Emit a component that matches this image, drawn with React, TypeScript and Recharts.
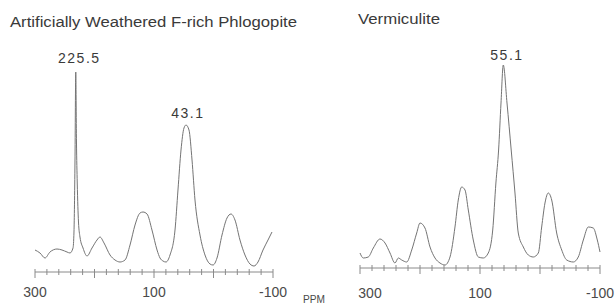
import React from 'react';
import { LineChart, Line, XAxis, YAxis, ReferenceDot } from 'recharts';

// spectrum: chemical shift (ppm) and relative intensity
const leftPpm = [300, 291.6, 283.2, 274.8, 263.0, 254.6, 246.2, 241.2, 236.1, 234.5, 232.8, 231.5, 230.3, 229.0, 226.9, 224.4, 219.3, 212.6, 204.2, 195.8, 190.8, 184.0, 173.9, 165.5, 157.1, 148.7, 140.3, 131.9, 123.5, 118.5, 111.7, 103.4, 94.9, 89.9, 84.9, 79.8, 73.1, 64.7, 59.7, 54.6, 49.6, 46.2, 41.2, 36.1, 31.1, 22.7, 14.3, 5.9, 0.8, -5.9, -14.3, -22.7, -29.4, -36.1, -44.5, -52.9, -61.3, -68.1, -74.8, -83.2, -91.6, -98.3];
const leftIntensity = [22, 19, 14, 20, 23, 22, 20, 19, 24, 40, 110, 200, 130, 89, 50, 35, 24, 16, 24, 32, 35, 29, 17, 12, 10, 12, 27, 47, 59, 60, 58, 42, 22, 14, 11, 10, 17, 42, 82, 122, 144, 147, 142, 112, 72, 37, 17, 8, 7, 14, 37, 54, 58, 52, 32, 17, 8, 6, 10, 22, 32, 40];

const rightPpm = [300, 294.5, 286.2, 277.8, 266.7, 258.3, 250, 241.7, 236.2, 230.5, 222.2, 213.8, 205.5, 200, 191.7, 183.3, 175, 166.7, 158.3, 150, 141.7, 136.2, 130.5, 125, 119.5, 111.2, 102.8, 94.5, 86.2, 78.8, 73.5, 69, 65, 61.2, 55, 48, 41.7, 36.2, 27.8, 19.5, 11.2, 2.8, -2.8, -8.3, -13.8, -19.5, -27.8, -36.2, -44.5, -55.5, -63.8, -72.2, -80.5, -88.8, -95.5, -100];
const rightIntensity = [15, 10, 11, 20, 29, 25, 15, 5, 10, 8, 6, 18, 35, 45, 40, 21, 10, 5, 3, 11, 41, 68, 81, 78, 58, 28, 11, 10, 15, 38, 85, 118, 165, 203, 165, 118, 75, 35, 21, 13, 11, 15, 41, 65, 75, 68, 35, 18, 8, 6, 11, 28, 41, 40, 28, 16];

const axisTicks = [300, 280, 260, 240, 220, 200, 180, 160, 140, 120, 100, 80, 60, 40, 20, 0, -20, -40, -60, -80, -100];
const tickLabels = [300, 100, -100];

const leftPeaks = [{ ppm: 225.5, height: 200, label: '225.5' }, { ppm: 43.1, height: 147, label: '43.1' }];
const rightPeaks = [{ ppm: 55.1, height: 203, label: '55.1' }];

const leftData = leftPpm.map((ppm, i) => ({ ppm, value: leftIntensity[i] }));
const rightData = rightPpm.map((ppm, i) => ({ ppm, value: rightIntensity[i] }));

const FONT = '"Liberation Sans", Arial, sans-serif';
const INK = '#3a3a3a';
const TRACE = '#747474';

const AxisTick = (props: any) => {
  const { x, y, payload, labelDy, firstDx } = props;
  const v = payload.value;
  const major = v % 100 === 0;
  const showLabel = tickLabels.includes(v);
  return (
    <g>
      <line x1={x} x2={x} y1={y - 3} y2={y + (major ? 6 : 3)} stroke="#8a8a8a" strokeWidth={1} />
      {showLabel && (
        <text
          x={x + (v === 300 ? firstDx : 0)}
          y={y + labelDy}
          textAnchor="middle"
          fontFamily={FONT}
          fontSize={14}
          fill="#4a4a4a"
        >
          {v}
        </text>
      )}
    </g>
  );
};

const Spectrum = ({ data, peaks, width, height, margin, axisH, yMax, labelDy, firstDx, labelOffset }: any) => (
  <LineChart width={width} height={height} data={data} margin={margin}>
    <XAxis
      dataKey="ppm"
      type="number"
      domain={[-100, 300]}
      reversed
      ticks={axisTicks}
      interval={0}
      height={axisH}
      tickSize={0}
      tickMargin={0}
      tickLine={false}
      axisLine={{ stroke: '#8a8a8a', strokeWidth: 1 }}
      tick={<AxisTick labelDy={labelDy} firstDx={firstDx} />}
    />
    <YAxis hide domain={[0, yMax]} />
    <Line
      type="monotone"
      dataKey="value"
      stroke={TRACE}
      strokeWidth={1}
      dot={false}
      isAnimationActive={false}
    />
    {peaks.map((p: any, i: number) => (
      <ReferenceDot
        key={p.label}
        x={p.ppm}
        y={p.height}
        r={0}
        fill="none"
        stroke="none"
        label={{
          value: p.label,
          position: 'top',
          offset: labelOffset[i],
          fontFamily: FONT,
          fontSize: 14,
          fill: INK,
          letterSpacing: 1.5,
        }}
      />
    ))}
  </LineChart>
);

export default function App() {
  return (
    <div style={{ position: 'absolute', left: 0, top: 0, width: 615, height: 304, background: '#fff', overflow: 'hidden' }}>
      <div style={{ position: 'absolute', left: 0, top: 0 }}>
        <Spectrum
          data={leftData}
          peaks={leftPeaks}
          width={310}
          height={304}
          margin={{ top: 72, right: 37, bottom: 0, left: 35 }}
          axisH={32}
          yMax={200}
          labelDy={25}
          firstDx={0}
          labelOffset={[9, 7]}
        />
      </div>
      <div style={{ position: 'absolute', left: 310, top: 0 }}>
        <Spectrum
          data={rightData}
          peaks={rightPeaks}
          width={305}
          height={304}
          margin={{ top: 63, right: 15, bottom: 0, left: 50 }}
          axisH={36}
          yMax={205}
          labelDy={30}
          firstDx={10}
          labelOffset={[5]}
        />
      </div>
      <svg width={615} height={304} style={{ position: 'absolute', left: 0, top: 0, pointerEvents: 'none' }}>
        <text x={10} y={27} fontFamily={FONT} fontSize={14} fill={INK} textLength={287} lengthAdjust="spacingAndGlyphs">
          Artificially Weathered F-rich Phlogopite
        </text>
        <text x={358} y={24} fontFamily={FONT} fontSize={14.5} fill={INK} textLength={82} lengthAdjust="spacingAndGlyphs">
          Vermiculite
        </text>
        <text x={303} y={303} fontFamily={FONT} fontSize={10.5} fill="#4a4a4a" textLength={22} lengthAdjust="spacingAndGlyphs">
          PPM
        </text>
      </svg>
    </div>
  );
}
